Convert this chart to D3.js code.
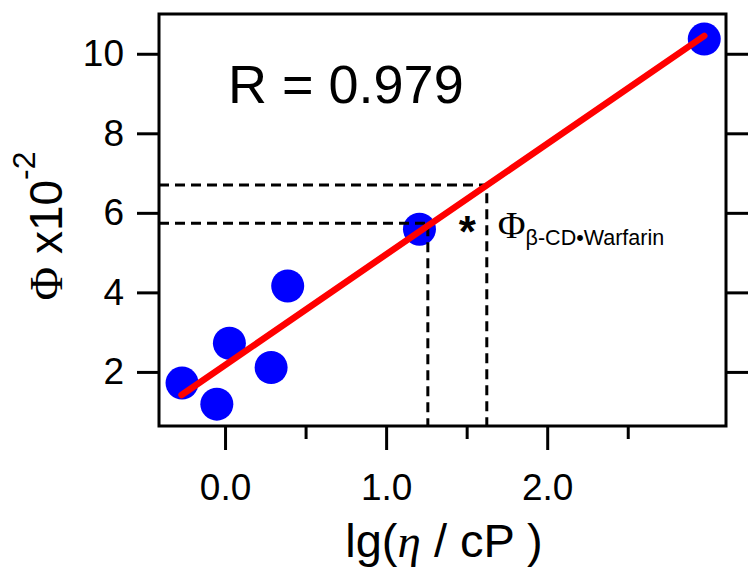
<!DOCTYPE html>
<html>
<head>
<meta charset="utf-8">
<script src="https://cdn.jsdelivr.net/npm/d3@7"></script>
<style>
  body { margin: 0; background: #fff; }
  svg { display: block; }
</style>
</head>
<body>
<svg id="chart" width="752" height="569"></svg>
<script>
// puntos medidos: lg(eta/cP) vs Phi x10^-2
var lgEta = [-0.267, -0.051, 0.027, 0.286, 0.389, 1.207, 2.975];
var phi   = [1.72, 1.19, 2.72, 2.11, 4.16, 5.59, 10.37];

// recta de ajuste (extremos)
var fitX = [-0.27, 2.975];
var fitY = [1.42, 10.45];

// lineas punteadas (beta-CD / warfarina)
var dashX = [1.259, 1.625];
var dashY = [5.74, 6.70];

var xTicks = [0, 1, 2];
var xMinor = [0.5, 1.5, 2.5];
var yTicks = [2, 4, 6, 8, 10];

var corrText = 'R = 0.979';

var xScale = d3.scaleLinear().domain([-0.41, 3.11]).range([159, 726]);
var yScale = d3.scaleLinear().domain([0.64, 11.0]).range([426, 14]);

var svg = d3.select('#chart');
var sans = 'Liberation Sans, Arial, sans-serif';
var serif = 'Liberation Serif, Times New Roman, serif';

// ejes
function estiloAxis(g) {
  g.select('.domain').remove();
  g.selectAll('line').attr('stroke', '#000').attr('stroke-width', 3);
  g.selectAll('text').attr('fill', '#000').attr('font-family', sans).attr('font-size', 37);
}

svg.append('g')
  .attr('transform', 'translate(0,426)')
  .call(d3.axisBottom(xScale).tickValues(xTicks).tickSize(24).tickSizeOuter(0)
    .tickPadding(24).tickFormat(d3.format('.1f')))
  .call(estiloAxis);

svg.append('g')
  .attr('transform', 'translate(0,426)')
  .call(d3.axisBottom(xScale).tickValues(xMinor).tickSize(13).tickSizeOuter(0).tickFormat(''))
  .call(estiloAxis);

svg.append('g')
  .attr('transform', 'translate(159,0)')
  .call(d3.axisLeft(yScale).tickValues(yTicks).tickSize(22).tickSizeOuter(0).tickPadding(13))
  .call(estiloAxis);

svg.append('g')
  .attr('transform', 'translate(726,0)')
  .call(d3.axisRight(yScale).tickValues(yTicks).tickSize(22).tickSizeOuter(0).tickFormat(''))
  .call(estiloAxis);

// puntos
svg.selectAll('.punto')
  .data(lgEta)
  .join('circle')
  .attr('class', 'punto')
  .attr('cx', d => xScale(d))
  .attr('cy', (d, i) => yScale(phi[i]))
  .attr('r', 16.5)
  .attr('fill', '#0000ff');

// punteadas
svg.selectAll('.guia')
  .data(dashX)
  .join('path')
  .attr('class', 'guia')
  .attr('d', (d, i) => 'M' + xScale.range()[0] + ',' + yScale(dashY[i]) +
    'H' + xScale(d) + 'V' + yScale.range()[0])
  .attr('fill', 'none')
  .attr('stroke', '#000')
  .attr('stroke-width', 3)
  .attr('stroke-dasharray', '10,6');

// ajuste
svg.append('path')
  .datum(fitX)
  .attr('d', d3.line().x(d => xScale(d)).y((d, i) => yScale(fitY[i])))
  .attr('fill', 'none')
  .attr('stroke', '#ff0000')
  .attr('stroke-width', 6.5)
  .attr('stroke-linecap', 'round');

// marco
svg.append('rect')
  .attr('x', xScale.range()[0])
  .attr('y', yScale.range()[1])
  .attr('width', xScale.range()[1] - xScale.range()[0])
  .attr('height', yScale.range()[0] - yScale.range()[1])
  .attr('fill', 'none')
  .attr('stroke', '#000')
  .attr('stroke-width', 3);

// R
svg.append('text')
  .attr('x', xScale.range()[0] + 69)
  .attr('y', yScale.range()[1] + 89)
  .attr('font-family', sans)
  .attr('font-size', 54)
  .text(corrText);

// asterisco y etiqueta
svg.append('text')
  .attr('x', (xScale(dashX[0]) + xScale(dashX[1])) / 2 + 10)
  .attr('y', yScale(dashY[0]) + 24)
  .attr('text-anchor', 'middle')
  .attr('font-family', sans)
  .attr('font-weight', 'bold')
  .attr('font-size', 44)
  .text('*');

var lab = svg.append('text')
  .attr('x', xScale(dashX[1]) + 11)
  .attr('y', yScale(dashY[0]) + 15);
lab.append('tspan').attr('font-family', serif).attr('font-size', 38).text('Φ');
lab.append('tspan').attr('font-family', sans).attr('font-size', 21.5).attr('dy', 7).text('β-CD•Warfarin');

// titulos
var xt = svg.append('text')
  .attr('x', 444)
  .attr('y', 557)
  .attr('text-anchor', 'middle')
  .attr('font-family', sans)
  .attr('font-size', 47);
xt.append('tspan').text('lg(');
xt.append('tspan').attr('font-family', serif).attr('font-style', 'italic').text('η');
xt.append('tspan').text(' / cP )');

var yt = svg.append('text')
  .attr('transform', 'translate(62,226) rotate(-90)')
  .attr('text-anchor', 'middle')
  .attr('font-family', sans)
  .attr('font-size', 46);
yt.append('tspan').attr('font-family', serif).text('Φ');
yt.append('tspan').text(' x10');
yt.append('tspan').attr('font-size', 32).attr('dy', -27).text('-2');
</script>
</body>
</html>
